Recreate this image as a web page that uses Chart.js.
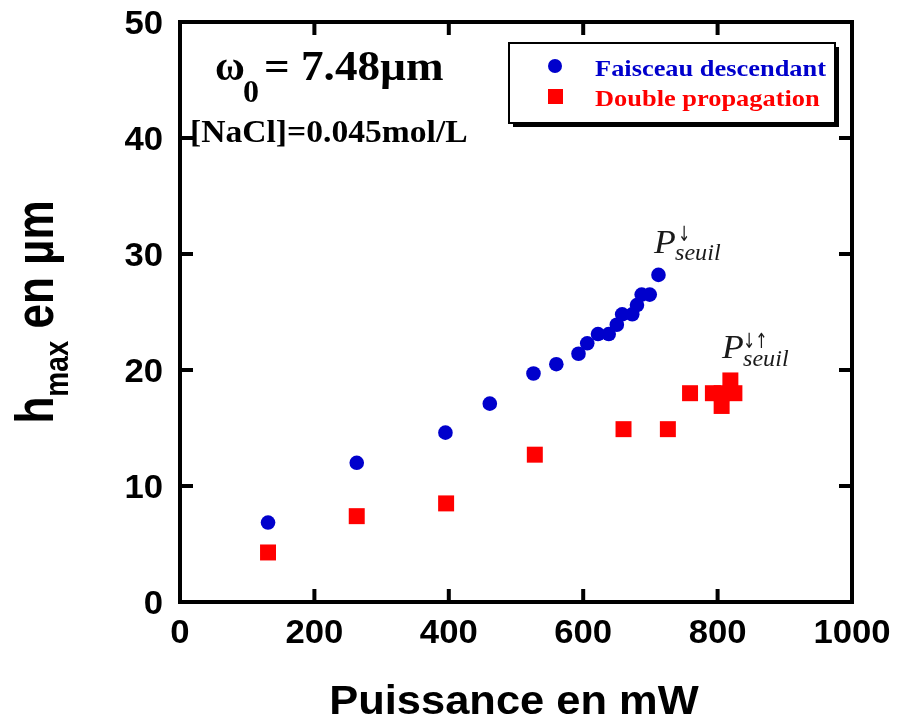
<!DOCTYPE html>
<html>
<head>
<meta charset="utf-8">
<script src="https://cdn.jsdelivr.net/npm/chart.js@4.4.1/dist/chart.umd.min.js"></script>
<style>
  html, body { margin: 0; padding: 0; background: #fff; }
</style>
</head>
<body>
<canvas id="graphique" width="899" height="723"></canvas>
<script>
// Données
const puissanceDescendant = [131, 263, 395, 461, 526, 560, 593, 606, 622, 638, 650, 658, 673, 680, 687, 699, 712];
const hmaxDescendant = [6.85, 12.0, 14.6, 17.1, 19.7, 20.5, 21.4, 22.3, 23.1, 23.1, 23.9, 24.8, 24.8, 25.6, 26.5, 26.5, 28.2];
const puissanceDouble = [131, 263, 396, 528, 660, 726, 759, 793, 806, 806, 819, 825];
const hmaxDouble = [4.27, 7.4, 8.5, 12.7, 14.9, 14.9, 18.0, 18.0, 18.0, 16.9, 19.1, 18.0];
const ticksX = [0, 200, 400, 600, 800, 1000];
const ticksY = [0, 10, 20, 30, 40, 50];

const BLEU = '#0000CC';
const ROUGE = '#FF0000';
const SANS = '"Liberation Sans", Arial, sans-serif';
const SERIF = '"Liberation Serif", "Times New Roman", serif';

function points(xs, ys) {
  return xs.map((x, i) => ({ x: x, y: ys[i] }));
}

// texte étiré horizontalement (la figure d'origine est un peu élargie)
function texte(ctx, str, x, y, font, color, sx, align) {
  ctx.save();
  ctx.translate(x, y);
  ctx.scale(sx, 1);
  ctx.font = font;
  ctx.fillStyle = color;
  ctx.textAlign = align || 'left';
  ctx.textBaseline = 'alphabetic';
  ctx.fillText(str, 0, 0);
  const w = ctx.measureText(str).width * sx;
  ctx.restore();
  return w;
}

const cadre = {
  id: 'cadre',
  afterDraw(chart) {
    const ctx = chart.ctx;
    const a = chart.chartArea;
    const sx = chart.scales.x;
    const sy = chart.scales.y;

    // cadre et graduations vers l'intérieur
    ctx.save();
    ctx.strokeStyle = '#000';
    ctx.lineWidth = 4;
    ctx.lineCap = 'butt';
    ctx.strokeRect(a.left, a.top, a.right - a.left, a.bottom - a.top);
    ctx.beginPath();
    ticksX.forEach(v => {
      const px = sx.getPixelForValue(v);
      ctx.moveTo(px, a.bottom); ctx.lineTo(px, a.bottom - 13);
      ctx.moveTo(px, a.top); ctx.lineTo(px, a.top + 13);
    });
    ticksY.forEach(v => {
      const py = sy.getPixelForValue(v);
      ctx.moveTo(a.left, py); ctx.lineTo(a.left + 13, py);
      ctx.moveTo(a.right, py); ctx.lineTo(a.right - 13, py);
    });
    ctx.stroke();
    ctx.restore();

    // étiquettes des graduations
    ticksX.forEach(v => {
      texte(ctx, String(v), sx.getPixelForValue(v), 643, 'bold 34px ' + SANS, '#000', 1.02, 'center');
    });
    ticksY.forEach(v => {
      texte(ctx, String(v), 163, sy.getPixelForValue(v) + 12, 'bold 34px ' + SANS, '#000', 1.02, 'right');
    });

    // titre de l'axe x
    texte(ctx, 'Puissance en mW', (a.left + a.right) / 2 - 2, 714, 'bold 41px ' + SANS, '#000', 1.06, 'center');

    // titre de l'axe y : h_max en µm
    ctx.save();
    ctx.fillStyle = '#000';
    ctx.textBaseline = 'alphabetic';
    ctx.textAlign = 'left';
    ctx.font = 'bold 44px ' + SANS;
    const wh = ctx.measureText('h').width;
    const wen = ctx.measureText(' en µm').width;
    ctx.font = 'bold 28px ' + SANS;
    const wmax = ctx.measureText('max').width;
    const total = wh + wmax + wen;
    ctx.translate(53, (a.top + a.bottom) / 2 + total / 2);
    ctx.rotate(-Math.PI / 2);
    ctx.scale(1, 1.2);
    ctx.font = 'bold 44px ' + SANS;
    ctx.fillText('h', 0, 0);
    ctx.font = 'bold 28px ' + SANS;
    ctx.fillText('max', wh, 12.5);
    ctx.font = 'bold 44px ' + SANS;
    ctx.fillText(' en µm', wh + wmax, 0);
    ctx.restore();

    // annotations
    texte(ctx, 'ω', 215, 80, 'bold 43px ' + SERIF, '#000', 0.95);
    texte(ctx, '0', 243, 102, 'bold 32px ' + SERIF, '#000', 1.0);
    texte(ctx, '= 7.48µm', 264, 80, 'bold 43px ' + SERIF, '#000', 1.05);
    texte(ctx, '[NaCl]=0.045mol/L', 190, 142, 'bold 32px ' + SERIF, '#000', 1.05);

    const gris = '#1a1a1a';
    texte(ctx, 'P', 654, 253, 'italic 34px ' + SERIF, gris, 1.05);
    texte(ctx, 'seuil', 675, 260, 'italic 23px ' + SERIF, gris, 1.05);
    texte(ctx, '↓', 678, 241, '21px "DejaVu Sans", sans-serif', gris, 0.7);
    texte(ctx, 'P', 722, 358, 'italic 34px ' + SERIF, gris, 1.05);
    texte(ctx, 'seuil', 743, 366, 'italic 23px ' + SERIF, gris, 1.05);
    texte(ctx, '↓↑', 743, 348, '21px "DejaVu Sans", sans-serif', gris, 0.7);

    // légende avec ombre
    ctx.save();
    ctx.fillStyle = '#000';
    ctx.fillRect(513, 47, 326, 80);
    ctx.fillStyle = '#fff';
    ctx.fillRect(509, 43, 326, 80);
    ctx.strokeStyle = '#000';
    ctx.lineWidth = 2;
    ctx.strokeRect(509, 43, 326, 80);
    ctx.fillStyle = BLEU;
    ctx.beginPath();
    ctx.arc(555, 66, 7, 0, Math.PI * 2);
    ctx.fill();
    ctx.fillStyle = ROUGE;
    ctx.fillRect(548, 89, 15, 15);
    ctx.restore();
    texte(ctx, 'Faisceau descendant', 595, 76, 'bold 24px ' + SERIF, BLEU, 1.1);
    texte(ctx, 'Double propagation', 595, 106, 'bold 24px ' + SERIF, ROUGE, 1.1);
  }
};

new Chart(document.getElementById('graphique'), {
  type: 'scatter',
  data: {
    datasets: [
      {
        label: 'Double propagation',
        data: points(puissanceDouble, hmaxDouble),
        pointStyle: 'rect',
        pointRadius: 11.3,
        pointHoverRadius: 11.3,
        pointBorderWidth: 0,
        backgroundColor: ROUGE,
        borderColor: ROUGE
      },
      {
        label: 'Faisceau descendant',
        data: points(puissanceDescendant, hmaxDescendant),
        pointStyle: 'circle',
        pointRadius: 7.3,
        pointHoverRadius: 7.3,
        pointBorderWidth: 0,
        backgroundColor: BLEU,
        borderColor: BLEU
      }
    ]
  },
  options: {
    responsive: false,
    animation: false,
    events: [],
    layout: { padding: { top: 22, right: 47, left: 0, bottom: 0 } },
    plugins: {
      legend: { display: false },
      tooltip: { enabled: false }
    },
    scales: {
      x: {
        type: 'linear',
        min: 0,
        max: 1000,
        ticks: { display: false, stepSize: 200 },
        grid: { display: false },
        border: { display: false },
        afterFit: (scale) => { scale.height = 121; }
      },
      y: {
        type: 'linear',
        min: 0,
        max: 50,
        ticks: { display: false, stepSize: 10 },
        grid: { display: false },
        border: { display: false },
        afterFit: (scale) => { scale.width = 180; }
      }
    }
  },
  plugins: [cadre]
});
</script>
</body>
</html>
